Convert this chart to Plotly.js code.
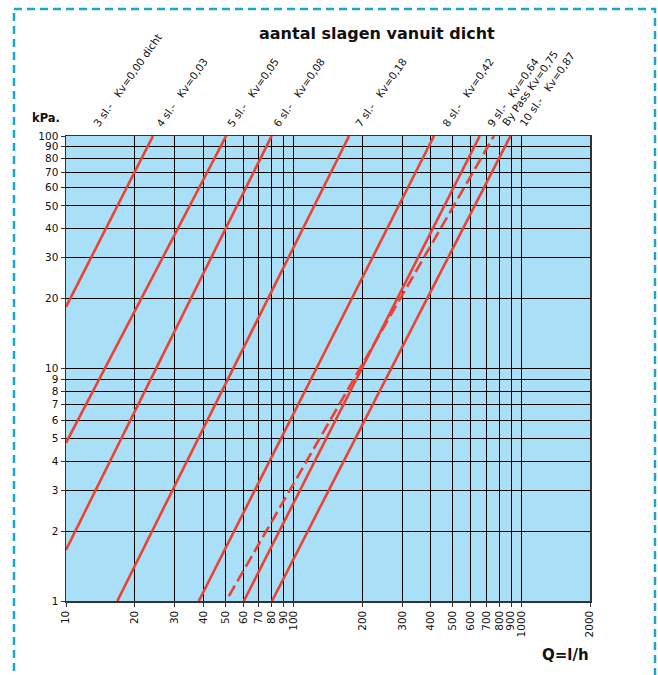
<!DOCTYPE html>
<html>
<head>
<meta charset="utf-8">
<script src="https://cdn.plot.ly/plotly-3.0.1.min.js"></script>
<style>html,body{margin:0;padding:0;background:#fff;}#chart{width:658px;height:675px;}</style>
</head>
<body>
<div id="chart"></div>
<script>
// Series: each line defined by start and end points (Q in l/h, dP in kPa)
const seriesNames = ["4 sl.", "5 sl.", "6 sl.", "7 sl.", "8 sl.", "9 sl.", "By Pass", "10 sl."];
const qStart = [10, 10, 10, 16.8, 38.3, 60.4, 51.9, 80.3];
const pStart = [18.4, 4.79, 1.66, 1, 1, 1, 1.05, 1];
const qEnd   = [24.1, 50.5, 80, 175, 413, 656, 757, 895];
const pEnd   = [100, 100, 100, 100, 100, 100, 100, 100];
const dashed = [false, false, false, false, false, false, true, false];

// Labels along the top
const topLabels = [
  "3 sl.-\u00A0\u00A0\u00A0Kv=0,00 dicht",
  "4 sl.-\u00A0\u00A0\u00A0Kv=0,03",
  "5 sl.-\u00A0\u00A0\u00A0Kv=0,05",
  "6 sl.-\u00A0\u00A0\u00A0Kv=0,08",
  "7 sl.-\u00A0\u00A0\u00A0Kv=0,18",
  "8 sl.-\u00A0\u00A0\u00A0Kv=0,42",
  "9 sl.-\u00A0\u00A0\u00A0Kv=0,64",
  "By Pass Kv=0,75",
  "10 sl.-\u00A0\u00A0\u00A0Kv=0,87"
];
const labelLeftPx = [88, 151, 222, 268, 350, 437, 482, 497, 514];

const xTicks = [10,20,30,40,50,60,70,80,90,100,200,300,400,500,600,700,800,900,1000,2000];
const yTicks = [1,2,3,4,5,6,7,8,9,10,20,30,40,50,60,70,80,90,100];

const W = 658, H = 675, L = 66, R = 590, T = 136, B = 601;
const px2x = p => (p - L) / (R - L);
const px2y = p => (B - p) / (B - T);

const font = "DejaVu Sans, Liberation Sans, sans-serif";
const red = "#ec4133";

const traces = seriesNames.map((n, i) => ({
  type: "scatter", mode: "lines", name: n,
  x: [qStart[i], qEnd[i]], y: [pStart[i], pEnd[i]],
  line: {color: red, width: 2.6, dash: dashed[i] ? "12px,5px" : "solid"},
  hoverinfo: "skip", showlegend: false, cliponaxis: true
}));

const annotations = topLabels.map((t, i) => ({
  xref: "paper", yref: "paper", x: px2x(labelLeftPx[i]), y: px2y(131),
  xanchor: "left", yanchor: "bottom", text: t, showarrow: false,
  textangle: -55, font: {family: font, size: 10.5, color: "#111"}
}));
annotations.push({
  xref: "paper", yref: "paper", x: px2x(377), y: px2y(33), xanchor: "center", yanchor: "middle",
  text: "<b>aantal slagen vanuit dicht</b>", showarrow: false,
  font: {family: font, size: 16, color: "#111"}
});
annotations.push({
  xref: "paper", yref: "paper", x: px2x(62), y: px2y(118), xanchor: "right", yanchor: "middle",
  text: "<b>kPa.</b>", showarrow: false, font: {family: font, size: 11.5, color: "#111"}
});
annotations.push({
  xref: "paper", yref: "paper", x: px2x(591), y: px2y(655), xanchor: "right", yanchor: "middle",
  text: "<b>Q=l/h</b>", showarrow: false, font: {family: font, size: 15, color: "#111"}
});

const layout = {
  width: W, height: H,
  margin: {l: L, r: W - R, t: T, b: H - B, pad: 0},
  paper_bgcolor: "#ffffff", plot_bgcolor: "#aadff8",
  showlegend: false,
  xaxis: {
    type: "log", range: [1, Math.log10(2000)],
    tickvals: xTicks, ticktext: xTicks.map(String), tickangle: -90,
    showgrid: true, gridcolor: "#000", gridwidth: 1,
    showline: true, linecolor: "#333", linewidth: 1.5, mirror: true,
    ticks: "outside", ticklen: 4, tickcolor: "#333", tickwidth: 1,
    tickfont: {family: font, size: 10.5, color: "#111"}, zeroline: false, fixedrange: true
  },
  yaxis: {
    type: "log", range: [0, 2],
    tickvals: yTicks, ticktext: yTicks.map(String),
    showgrid: true, gridcolor: "#000", gridwidth: 1,
    showline: true, linecolor: "#333", linewidth: 1.5, mirror: true,
    ticks: "outside", ticklen: 4, tickcolor: "#333", tickwidth: 1,
    tickfont: {family: font, size: 10.5, color: "#111"}, zeroline: false, fixedrange: true
  },
  annotations: annotations,
  shapes: [{
    type: "rect", xref: "paper", yref: "paper",
    x0: px2x(14), x1: px2x(655), y0: px2y(9), y1: px2y(700),
    line: {color: "#1ba5c8", width: 2.5, dash: "8px,5px"}, fillcolor: "rgba(0,0,0,0)", layer: "above"
  }]
};

Plotly.newPlot("chart", traces, layout, {staticPlot: true, displayModeBar: false});
</script>
</body>
</html>
